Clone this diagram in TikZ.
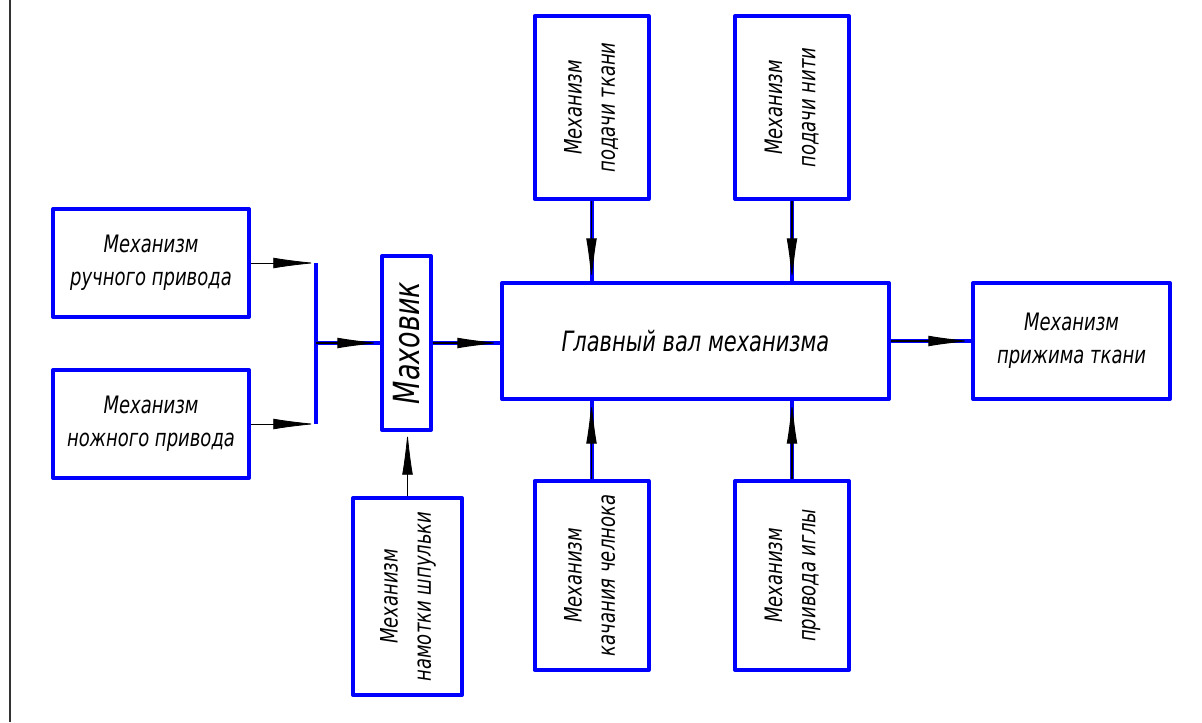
\documentclass[tikz,border=0pt]{standalone}
\usepackage{fontspec}
\setmainfont{DejaVu Sans}[FakeStretch=0.75]
\usetikzlibrary{arrows.meta}

\newcommand{\vlabel}[2]{\rotatebox{90}{\begin{tabular}{@{}c@{}}#1\\#2\end{tabular}}}

\begin{document}
\begin{tikzpicture}[x=0.75pt, y=-0.75pt,
  block/.style={rectangle, draw=blue, line width=3pt, line join=round, inner sep=0pt,
    align=center, font=\fontsize{18}{25}\selectfont\itshape},
  wire/.style={draw=blue, line width=3pt,
    postaction={draw=black, line width=0.8pt, -{Latex[length=32pt, width=8pt]}}},
  feed/.style={draw=black, line width=0.6pt, -{Latex[length=32pt, width=8pt]}}]
  \useasboundingbox (0,0) rectangle (1202,722);
  \draw[line width=0.8pt, black!80] (10,0) -- (10,722);

  % drives
  \node[block, minimum width=147pt, minimum height=81pt] (ruch) at (151,263) {Механизм\\ручного привода};
  \node[block, minimum width=147pt, minimum height=81pt] (nozh) at (151,424) {Механизм\\ножного привода};
  \coordinate (jn) at (316,343);

  \node[block, minimum width=36.75pt, minimum height=130.5pt] (mah) at (406.5,343)
    {\rotatebox{90}{\fontsize{27}{30}\selectfont Маховик}};
  \node[block, minimum width=81.75pt, minimum height=147.75pt] (shpul) at (407.5,596.5)
    {\vlabel{Механизм}{намотки шпульки}};

  % main shaft
  \node[block, minimum width=290.25pt, minimum height=87pt, font=\fontsize{21}{25}\selectfont\itshape] (val) at (695.5,341)
    {Главный вал механизма};
  \node[block, minimum width=147.75pt, minimum height=87pt] (prizh) at (1071.5,341) {Механизм\\прижима ткани};

  \node[block, minimum width=85.5pt, minimum height=137.25pt] (tkan) at (591.5,107.5) {\vlabel{Механизм}{подачи ткани}};
  \node[block, minimum width=85.5pt, minimum height=137.25pt] (nit) at (792,107.5) {\vlabel{Механизм}{подачи нити}};
  \node[block, minimum width=85.5pt, minimum height=141.75pt] (chel) at (591.5,575.5) {\vlabel{Механизм}{качания челнока}};
  \node[block, minimum width=85.5pt, minimum height=141.75pt] (igla) at (792,575.5) {\vlabel{Механизм}{привода иглы}};

  \draw[feed] (ruch.east) -- (ruch.east -| jn);
  \draw[feed] (nozh.east) -- (nozh.east -| jn);
  \draw[draw=blue, line width=3pt] (ruch.east -| jn) -- (nozh.east -| jn);
  \draw[wire] (jn) -- (jn -| mah.west);
  \draw[wire] (mah.east) -- (mah.east -| val.west);
  \draw[feed] (shpul.north) -- (shpul.north |- mah.south);
  \draw[wire] (val.east) -- (val.east -| prizh.west);

  \draw[wire] (tkan.south) -- (tkan.south |- val.north);
  \draw[wire] (nit.south) -- (nit.south |- val.north);
  \draw[wire] (chel.north) -- (chel.north |- val.south);
  \draw[wire] (igla.north) -- (igla.north |- val.south);
\end{tikzpicture}
\end{document}
